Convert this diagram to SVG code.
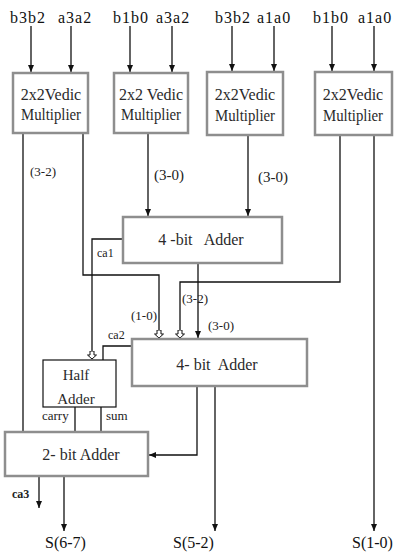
<svg xmlns="http://www.w3.org/2000/svg" width="395" height="556" viewBox="0 0 395 556">
  <style>
    .box { fill: #ffffff; stroke: #8e8e8e; stroke-width: 2.5; }
    .thin { fill: #ffffff; stroke: #111111; stroke-width: 1.2; }
    .ln { fill: none; stroke: #111111; stroke-width: 1.3; }
    .arr { marker-end: url(#tip); }
    .open { marker-end: url(#hollow); }
    .in { font-family: "Liberation Serif", "Times New Roman", serif; font-size: 16px; letter-spacing: 1px; fill: #111111; }
    .bt { font-family: "Liberation Serif", "Times New Roman", serif; font-size: 16px; fill: #2a2a2a; text-anchor: middle; }
    .lb { font-family: "Liberation Serif", "Times New Roman", serif; font-size: 13px; fill: #222222; }
    .out { font-family: "Liberation Serif", "Times New Roman", serif; font-size: 16px; fill: #111111; }
  </style>
  <defs>
    <marker id="tip" markerUnits="userSpaceOnUse" markerWidth="8" markerHeight="8" refX="7" refY="4" orient="auto">
      <path d="M0,1 L7,4 L0,7 Z" fill="#111111"/>
    </marker>
    <marker id="hollow" markerUnits="userSpaceOnUse" markerWidth="10" markerHeight="12" refX="8" refY="5" orient="auto">
      <path d="M0,3 L4,3 L4,0.5 L8,5 L4,9.5 L4,7 L0,7 Z" fill="#ffffff" stroke="#111111" stroke-width="1"/>
    </marker>
  </defs>

  <!-- input labels -->
  <g id="inputs">
    <text class="in" x="10" y="23">b3b2</text>
    <text class="in" x="58" y="23">a3a2</text>
    <text class="in" x="113" y="23">b1b0</text>
    <text class="in" x="156" y="23">a3a2</text>
    <text class="in" x="215" y="23">b3b2</text>
    <text class="in" x="257" y="23">a1a0</text>
    <text class="in" x="313" y="23">b1b0</text>
    <text class="in" x="358" y="23">a1a0</text>
  </g>

  <!-- connectors -->
  <g id="connectors">
    <!-- inputs into multipliers -->
    <line class="ln arr" x1="31" y1="26" x2="31" y2="72"/>
    <line class="ln arr" x1="71" y1="26" x2="71" y2="72"/>
    <line class="ln arr" x1="130" y1="26" x2="130" y2="72"/>
    <line class="ln arr" x1="172" y1="26" x2="172" y2="72"/>
    <line class="ln arr" x1="232" y1="26" x2="232" y2="71"/>
    <line class="ln arr" x1="274" y1="26" x2="274" y2="71"/>
    <line class="ln arr" x1="332" y1="26" x2="332" y2="71"/>
    <line class="ln arr" x1="374" y1="26" x2="374" y2="71"/>

    <!-- multiplier 1 outputs -->
    <polyline class="ln" points="23,134 23,431"/>
    <polyline class="ln open" points="83,134 83,275 159,275 159,338"/>
    <!-- multiplier 2 and 3 into first adder -->
    <line class="ln arr" x1="148" y1="134" x2="148" y2="216"/>
    <line class="ln arr" x1="248" y1="136" x2="248" y2="216"/>
    <!-- multiplier 4 outputs -->
    <polyline class="ln open" points="340,136 340,282 180,282 180,338"/>
    <line class="ln arr" x1="374" y1="136" x2="374" y2="531"/>

    <!-- first adder carry and sum -->
    <polyline class="ln open" points="123,239 92,239 92,359"/>
    <line class="ln arr" x1="198" y1="264" x2="198" y2="338"/>

    <!-- second adder carry into half adder -->
    <polyline class="ln" points="131,346 103,346 103,360"/>
    <!-- second adder outputs -->
    <polyline class="ln arr" points="197,387 197,455 149,455"/>
    <line class="ln arr" x1="215" y1="387" x2="215" y2="531"/>

    <!-- half adder outputs -->
    <line class="ln" x1="75" y1="407" x2="75" y2="431"/>
    <line class="ln" x1="101" y1="407" x2="101" y2="431"/>

    <!-- 2-bit adder outputs -->
    <line class="ln arr" x1="39" y1="477" x2="39" y2="508"/>
    <line class="ln arr" x1="64" y1="477" x2="64" y2="531"/>
  </g>

  <!-- 2x2 Vedic multipliers -->
  <g id="mult1">
    <rect class="box" x="13" y="73" width="75" height="60"/>
    <text class="bt" x="51" y="100">2x2Vedic</text>
    <text class="bt" x="51" y="120" textLength="60" lengthAdjust="spacingAndGlyphs">Multiplier</text>
  </g>
  <g id="mult2">
    <rect class="box" x="114" y="73" width="74" height="60"/>
    <text class="bt" x="151" y="100">2x2 Vedic</text>
    <text class="bt" x="151" y="120" textLength="60" lengthAdjust="spacingAndGlyphs">Multiplier</text>
  </g>
  <g id="mult3">
    <rect class="box" x="207" y="72" width="76" height="63"/>
    <text class="bt" x="245" y="100">2x2Vedic</text>
    <text class="bt" x="245" y="121" textLength="60" lengthAdjust="spacingAndGlyphs">Multiplier</text>
  </g>
  <g id="mult4">
    <rect class="box" x="315" y="72" width="77" height="63"/>
    <text class="bt" x="353" y="100">2x2Vedic</text>
    <text class="bt" x="353" y="121" textLength="60" lengthAdjust="spacingAndGlyphs">Multiplier</text>
  </g>

  <!-- adders -->
  <g id="adder4a">
    <rect class="box" x="123" y="217" width="159" height="46"/>
    <text class="bt" x="201" y="245" xml:space="preserve">4 -bit   Adder</text>
  </g>
  <g id="adder4b">
    <rect class="box" x="132" y="339" width="175" height="47"/>
    <text class="bt" x="217" y="370" xml:space="preserve">4- bit  Adder</text>
  </g>
  <g id="halfadder">
    <rect class="thin" x="43" y="360" width="73" height="47"/>
    <text class="bt" x="76" y="380" style="font-size:15px">Half</text>
    <text class="bt" x="76" y="404" style="font-size:15px">Adder</text>
  </g>
  <g id="adder2">
    <rect class="box" x="5" y="432" width="143" height="44"/>
    <text class="bt" x="81" y="460">2- bit Adder</text>
  </g>

  <!-- connector labels -->
  <g id="labels">
    <text class="lb" x="30" y="176">(3-2)</text>
    <text class="lb" x="154" y="180" style="font-size:15px">(3-0)</text>
    <text class="lb" x="258" y="182" style="font-size:15px">(3-0)</text>
    <text class="lb" x="97" y="257" style="font-size:12px">ca1</text>
    <text class="lb" x="182" y="303">(3-2)</text>
    <text class="lb" x="131" y="320">(1-0)</text>
    <text class="lb" x="208" y="330">(3-0)</text>
    <text class="lb" x="108" y="339" style="font-size:12px">ca2</text>
    <text class="lb" x="42" y="420">carry</text>
    <text class="lb" x="106" y="420">sum</text>
    <text class="lb" x="12" y="498" style="font-size:12px;font-weight:bold">ca3</text>
  </g>

  <!-- result labels -->
  <g id="results">
    <text class="out" x="45" y="548">S(6-7)</text>
    <text class="out" x="173" y="548">S(5-2)</text>
    <text class="out" x="352" y="548">S(1-0)</text>
  </g>
</svg>
